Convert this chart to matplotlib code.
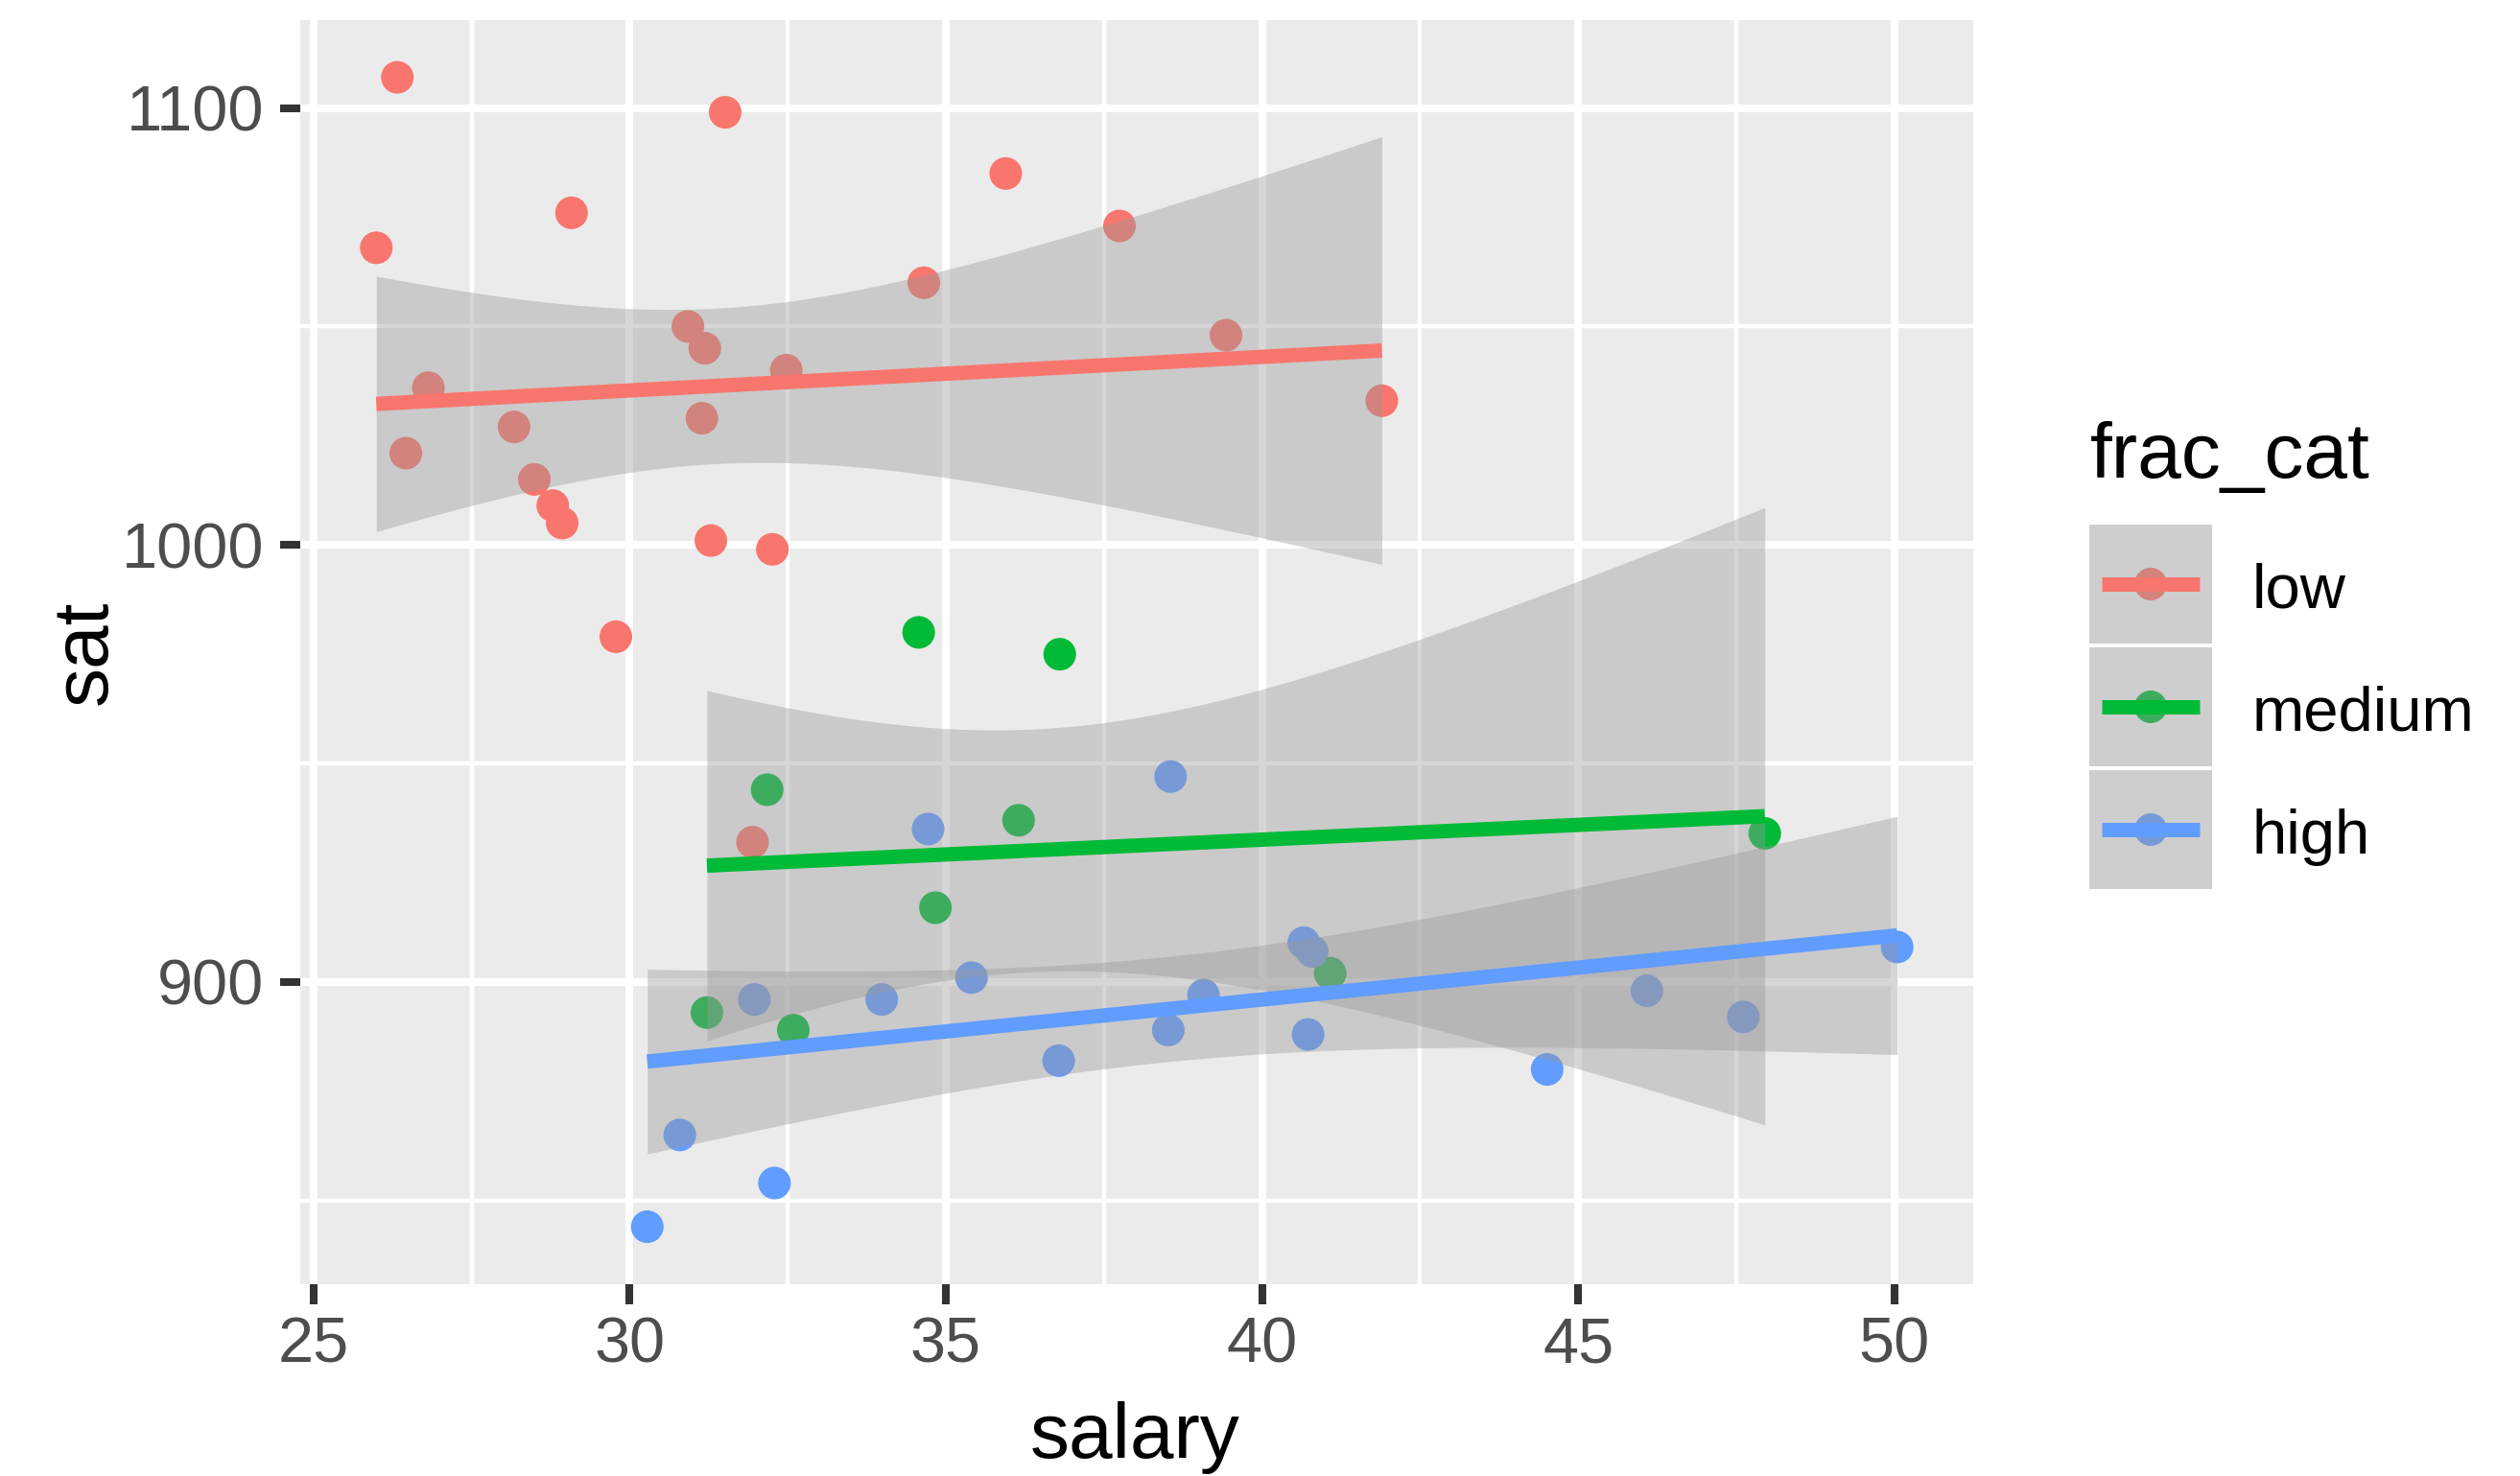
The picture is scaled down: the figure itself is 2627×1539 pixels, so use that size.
import math
import numpy as np
import matplotlib
matplotlib.use("Agg")
import matplotlib.pyplot as plt
from matplotlib.patches import Rectangle, Circle

# SAT scores by state versus average teacher salary (thousands of dollars)
salary = [31.144, 47.951, 32.175, 28.934, 41.078, 34.571, 50.045, 39.076, 32.588, 32.291,
          38.518, 29.783, 39.431, 36.785, 31.511, 34.652, 32.257, 26.461, 31.972, 40.661,
          40.795, 41.895, 35.948, 26.818, 31.189, 28.785, 30.922, 34.836, 34.720, 46.087,
          28.493, 47.612, 30.793, 26.327, 36.802, 28.172, 38.555, 44.510, 40.729, 30.279,
          25.994, 32.477, 31.223, 29.082, 35.406, 33.987, 36.151, 31.944, 37.746, 31.285]
sat = [1029, 934, 944, 1005, 902, 980, 908, 897, 889, 854,
       889, 979, 1048, 882, 1099, 1060, 999, 1021, 896, 909,
       907, 1033, 1085, 1036, 1045, 1009, 1050, 917, 935, 898,
       1015, 892, 865, 1107, 975, 1027, 947, 880, 888, 844,
       1068, 1040, 893, 1076, 901, 896, 937, 932, 1073, 1001]
frac_cat = ["low", "medium", "medium", "low", "medium", "medium", "high", "high", "medium", "high",
            "high", "low", "low", "high", "low", "low", "low", "low", "high", "high",
            "high", "low", "low", "low", "low", "low", "low", "medium", "high", "high",
            "low", "high", "high", "low", "medium", "low", "high", "high", "high", "high",
            "low", "low", "medium", "low", "high", "high", "medium", "low", "low", "low"]

levels = ["low", "medium", "high"]
palette = {"low": "#F8766D", "medium": "#00BA38", "high": "#619CFF"}
x_breaks = [25, 30, 35, 40, 45, 50]
x_minor = [27.5, 32.5, 37.5, 42.5, 47.5]
y_breaks = [900, 1000, 1100]
y_minor = [850, 950, 1050]

W, H = 2627, 1539
FONT = "Liberation Sans"
plt.rcParams["font.family"] = [FONT, "DejaVu Sans"]


def t_quantile(p, df):
    """Quantile of Student's t distribution by numerical integration of its density."""
    grid = np.linspace(0.0, 12.0, 240001)
    c = math.exp(math.lgamma((df + 1) / 2) - math.lgamma(df / 2)) / math.sqrt(df * math.pi)
    pdf = c * (1 + grid ** 2 / df) ** (-(df + 1) / 2)
    cdf = 0.5 + np.concatenate([[0.0], np.cumsum((pdf[1:] + pdf[:-1]) / 2 * np.diff(grid))])
    return float(np.interp(p, cdf, grid))


def lm_band(x, y, n_out=80, level=0.95):
    """Least-squares line with a confidence band for the mean response."""
    x = np.asarray(x, float)
    y = np.asarray(y, float)
    n = len(x)
    xbar = x.mean()
    sxx = ((x - xbar) ** 2).sum()
    b1 = ((x - xbar) * (y - y.mean())).sum() / sxx
    b0 = y.mean() - b1 * xbar
    resid = y - (b0 + b1 * x)
    s = math.sqrt((resid ** 2).sum() / (n - 2))
    xs = np.linspace(x.min(), x.max(), n_out)
    fit = b0 + b1 * xs
    se = s * np.sqrt(1 / n + (xs - xbar) ** 2 / sxx)
    tq = t_quantile(0.5 + level / 2, n - 2)
    return xs, fit, fit - tq * se, fit + tq * se


sal = np.array(salary)
scr = np.array(sat)
cat = np.array(frac_cat)

fits = {lv: lm_band(sal[cat == lv], scr[cat == lv]) for lv in levels}

fig = plt.figure(figsize=(W / 100, H / 100), dpi=100)
fig.patch.set_facecolor("white")

left, right, top, bottom = 313, 2057, 20.7, 1339
ax = fig.add_axes([left / W, 1 - bottom / H, (right - left) / W, (bottom - top) / H])
ax.set_facecolor("#EBEBEB")
for sp in ax.spines.values():
    sp.set_visible(False)

# scale limits with 5% expansion
xmin, xmax = sal.min(), sal.max()
ylo = min(scr.min(), min(f[2].min() for f in fits.values()))
yhi = max(scr.max(), max(f[3].max() for f in fits.values()))
dx = (xmax - xmin) * 0.05
dy = (yhi - ylo) * 0.05
ax.set_xlim(xmin - dx, xmax + dx)
ax.set_ylim(ylo - dy, yhi + dy)

# grid
for xv in x_minor:
    ax.axvline(xv, color="white", lw=3.2, zorder=0.5)
for yv in y_minor:
    ax.axhline(yv, color="white", lw=3.2, zorder=0.5)
for xv in x_breaks:
    ax.axvline(xv, color="white", lw=5.8, zorder=0.6)
for yv in y_breaks:
    ax.axhline(yv, color="white", lw=5.8, zorder=0.6)

# points
ax.scatter(sal, scr, s=600, c=[palette[c] for c in frac_cat], linewidths=0, zorder=2)

# linear fits with 95% confidence bands
z = 3
for lv in levels:
    xs, fit, lo, hi = fits[lv]
    ax.fill_between(xs, lo, hi, color="#999999", alpha=0.4, linewidth=0, zorder=z)
    ax.plot(xs, fit, color=palette[lv], lw=10.8, solid_capstyle="butt", zorder=z + 0.5)
    z += 1

ax.set_xticks(x_breaks)
ax.set_yticks(y_breaks)
ax.set_xticklabels([str(v) for v in x_breaks])
ax.set_yticklabels([str(v) for v in y_breaks])
ax.tick_params(axis="both", length=15, width=5.8, color="#333333", labelcolor="#4D4D4D",
               labelsize=48)
ax.tick_params(axis="x", pad=9)
ax.tick_params(axis="y", pad=12)
for lab in ax.get_xticklabels() + ax.get_yticklabels():
    lab.set_fontfamily(FONT)

# axis titles
fig.text(1183.5 / W, 1 - 1520 / H, "salary", ha="center", va="baseline",
         fontsize=59, color="black", fontfamily=FONT)
fig.text(90 / W, 1 - 680 / H, "sat", ha="center", va="center", rotation=90,
         fontsize=59, color="black", fontfamily=FONT, rotation_mode="anchor")

# legend
lg = fig.add_axes([0, 0, 1, 1])
lg.set_xlim(0, W)
lg.set_ylim(H, 0)
lg.axis("off")
lg.patch.set_alpha(0)
lg.text(2179, 498, "frac_cat", ha="left", va="baseline", fontsize=59, color="black",
        fontfamily=FONT)
key_tops = [547, 675, 803]
for lv, kt in zip(levels, key_tops):
    kh = 124
    cy = kt + kh / 2
    lg.add_patch(Rectangle((2178, kt), 128, kh, facecolor="#F2F2F2", edgecolor="none"))
    lg.add_patch(Circle((2242, cy), 17, facecolor=palette[lv], edgecolor="none"))
    lg.add_patch(Rectangle((2178, kt), 128, kh, facecolor="#999999", alpha=0.4,
                           edgecolor="none"))
    lg.plot([2191, 2293], [cy, cy], color=palette[lv], lw=10.8, solid_capstyle="butt")
    lg.text(2348, cy + 25, lv, ha="left", va="baseline", fontsize=47, color="black",
            fontfamily=FONT)

fig.savefig("out.png", dpi=100)
